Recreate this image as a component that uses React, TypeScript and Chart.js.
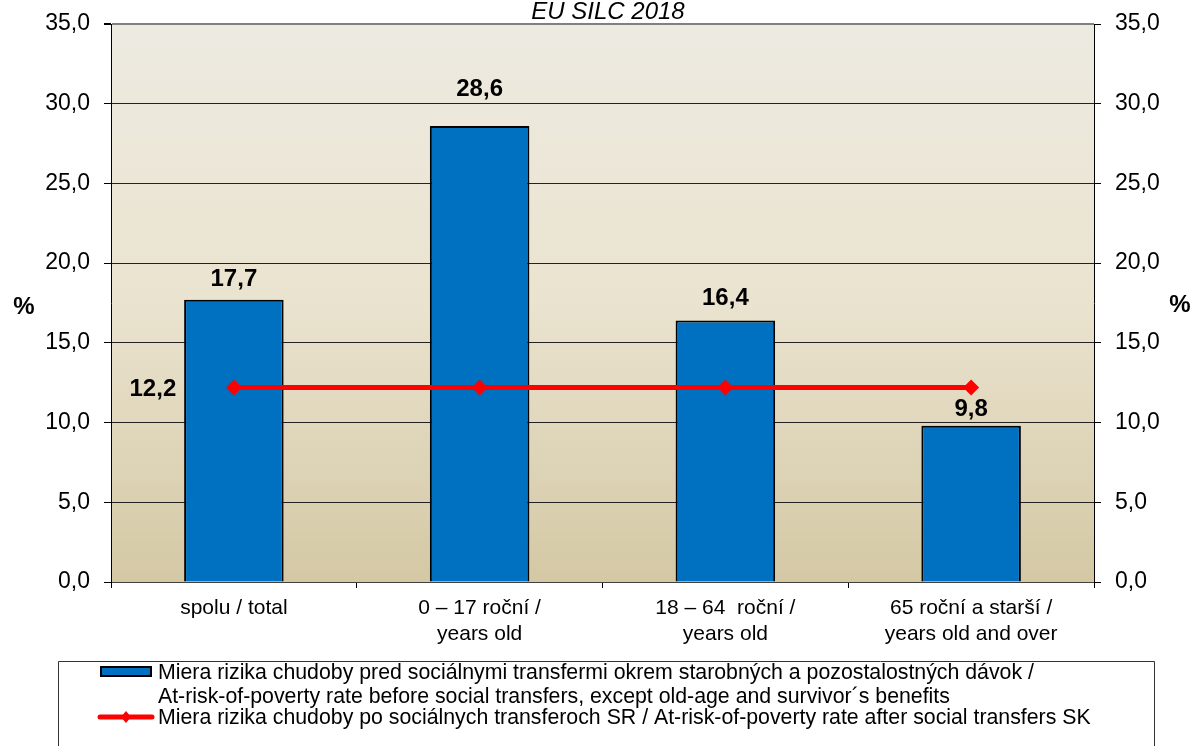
import React, { useEffect, useRef } from 'react';
import { Chart, registerables } from 'chart.js';

Chart.register(...registerables);

const chartTitle = 'EU SILC 2018';
const categories: string[][] = [
  ['spolu / total'],
  ['0 – 17 roční /', 'years old'],
  ['18 – 64  roční /', 'years old'],
  ['65 roční a starší /', 'years old and over'],
];
const beforeTransfers = [17.7, 28.6, 16.4, 9.8];
const afterTransfers = [12.2, 12.2, 12.2, 12.2];
const yMin = 0;
const yMax = 35;
const yStep = 5;
const axisUnit = '%';
const legendBarLines = [
  'Miera rizika chudoby pred sociálnymi transfermi okrem starobných a pozostalostných dávok /',
  'At-risk-of-poverty rate before social transfers, except old-age and survivor´s benefits',
];
const legendLineText =
  'Miera rizika chudoby po sociálnych transferoch SR / At-risk-of-poverty rate after social transfers SK';

// style settings (not data)
const FONT = '"Liberation Sans", Arial, sans-serif';
const BAR_COLOR = '#0070C0';
const LINE_COLOR = '#FF0000';
const barLabelGap = [20, 37, 22, 16];

const fmt = (v: number) => v.toFixed(1).replace('.', ',');

const decorPlugin = {
  id: 'decor',
  beforeDraw(chart: any) {
    const { ctx, chartArea: a } = chart;
    ctx.save();
    const g = ctx.createLinearGradient(0, a.top, 0, a.bottom);
    g.addColorStop(0, '#EDEAE1');
    g.addColorStop(0.5, '#EAE3CF');
    g.addColorStop(1, '#D4C8A4');
    ctx.fillStyle = g;
    ctx.fillRect(a.left, a.top, a.right - a.left, a.bottom - a.top);
    ctx.restore();
  },
  afterDatasetsDraw(chart: any) {
    const { ctx } = chart;
    ctx.save();
    ctx.fillStyle = '#000';
    ctx.textAlign = 'center';
    ctx.textBaseline = 'middle';
    ctx.font = `bold 24px ${FONT}`;
    const bars = chart.getDatasetMeta(1).data;
    bars.forEach((b: any, i: number) => {
      ctx.fillText(fmt(beforeTransfers[i]), b.x, b.y - barLabelGap[i]);
    });
    const pts = chart.getDatasetMeta(0).data;
    if (pts.length) {
      ctx.fillText(fmt(afterTransfers[0]), pts[0].x - 81, pts[0].y + 2);
    }
    ctx.restore();
  },
  afterDraw(chart: any) {
    const { ctx } = chart;
    ctx.save();
    // title
    ctx.fillStyle = '#000';
    ctx.textAlign = 'center';
    ctx.textBaseline = 'middle';
    ctx.font = `italic 24px ${FONT}`;
    ctx.fillText(chartTitle, 608, 12);
    // axis unit labels
    ctx.font = `bold 24px ${FONT}`;
    ctx.fillText(axisUnit, 24, 307);
    ctx.fillText(axisUnit, 1180, 305);
    // legend box
    ctx.strokeStyle = '#333';
    ctx.lineWidth = 1;
    ctx.beginPath();
    ctx.moveTo(58.5, 760);
    ctx.lineTo(58.5, 661.5);
    ctx.lineTo(1154.5, 661.5);
    ctx.lineTo(1154.5, 760);
    ctx.stroke();
    // bar swatch
    ctx.fillStyle = BAR_COLOR;
    ctx.fillRect(100, 666, 52, 11);
    ctx.strokeStyle = '#000';
    ctx.lineWidth = 2;
    ctx.strokeRect(101, 667, 50, 9);
    // line swatch
    ctx.strokeStyle = LINE_COLOR;
    ctx.lineWidth = 5;
    ctx.lineCap = 'round';
    ctx.beginPath();
    ctx.moveTo(100, 717);
    ctx.lineTo(152, 717);
    ctx.stroke();
    ctx.fillStyle = LINE_COLOR;
    ctx.beginPath();
    ctx.moveTo(126, 711);
    ctx.lineTo(131, 717);
    ctx.lineTo(126, 723);
    ctx.lineTo(121, 717);
    ctx.closePath();
    ctx.fill();
    // legend text
    ctx.fillStyle = '#000';
    ctx.textAlign = 'left';
    ctx.textBaseline = 'middle';
    ctx.font = `21.3px ${FONT}`;
    ctx.fillText(legendBarLines[0], 158, 673);
    ctx.fillText(legendBarLines[1], 158, 697);
    ctx.fillText(legendLineText, 158, 718);
    ctx.restore();
  },
};

const zeroVPad = (scale: any) => {
  scale.paddingTop = 0;
  scale.paddingBottom = 0;
};

export default function App() {
  const ref = useRef<HTMLCanvasElement | null>(null);
  useEffect(() => {
    document.body.style.margin = '0';
    const canvas = ref.current!;
    const chart = new Chart(canvas, {
      type: 'bar',
      data: {
        labels: categories,
        datasets: [
          {
            type: 'line',
            label: legendLineText,
            data: afterTransfers,
            borderColor: LINE_COLOR,
            backgroundColor: LINE_COLOR,
            borderWidth: 5,
            pointStyle: 'rectRot',
            pointRadius: 8,
            pointBackgroundColor: LINE_COLOR,
            pointBorderWidth: 0,
            order: 0,
            yAxisID: 'y',
          } as any,
          {
            type: 'bar',
            label: legendBarLines.join(' '),
            data: beforeTransfers,
            backgroundColor: BAR_COLOR,
            borderColor: '#000',
            borderWidth: 2,
            barPercentage: 0.405,
            categoryPercentage: 1,
            order: 1,
            yAxisID: 'y',
          },
        ],
      },
      options: {
        responsive: false,
        animation: false,
        devicePixelRatio: 1,
        layout: { padding: { top: 24, left: 0, right: 0, bottom: 0 } },
        plugins: {
          legend: { display: false },
          title: { display: false },
          tooltip: { enabled: false },
        },
        scales: {
          x: {
            offset: true,
            grid: {
              offset: true,
              drawOnChartArea: false,
              tickLength: 6,
              color: '#000',
            },
            border: { color: '#404040', width: 1 },
            ticks: {
              color: '#000',
              font: { family: FONT, size: 21, lineHeight: 1.2 },
              padding: 8,
              maxRotation: 0,
              autoSkip: false,
            },
            afterFit(scale: any) {
              scale.height = 746 - 582 - 0;
              scale.paddingLeft = 0;
              scale.paddingRight = 0;
            },
          },
          y: {
            position: 'left',
            min: yMin,
            max: yMax,
            ticks: {
              stepSize: yStep,
              color: '#000',
              padding: 14,
              font: { family: FONT, size: 23 },
              callback: (v: any) => fmt(Number(v)),
            },
            grid: {
              color: (c: any) => (c.tick && c.tick.value === yMax ? '#808080' : '#222'),
              lineWidth: (c: any) => (c.tick && c.tick.value === yMax ? 2 : 1),
              tickColor: '#000',
              tickLength: 7,
            },
            border: { color: '#000', width: 1 },
            afterFit(scale: any) {
              scale.width = 111;
              zeroVPad(scale);
            },
          },
          y2: {
            position: 'right',
            min: yMin,
            max: yMax,
            ticks: {
              stepSize: yStep,
              color: '#000',
              padding: 14,
              font: { family: FONT, size: 23 },
              callback: (v: any) => fmt(Number(v)),
            },
            grid: {
              drawOnChartArea: false,
              tickColor: '#000',
              tickLength: 7,
            },
            border: { color: '#000', width: 1 },
            afterFit(scale: any) {
              scale.width = 1195 - 1094;
              zeroVPad(scale);
            },
          },
        },
      } as any,
      plugins: [decorPlugin],
    });
    return () => chart.destroy();
  }, []);
  return (
    <div style={{ width: 1195, height: 746, background: '#fff' }}>
      <canvas ref={ref} width={1195} height={746} style={{ display: 'block' }} />
    </div>
  );
}
